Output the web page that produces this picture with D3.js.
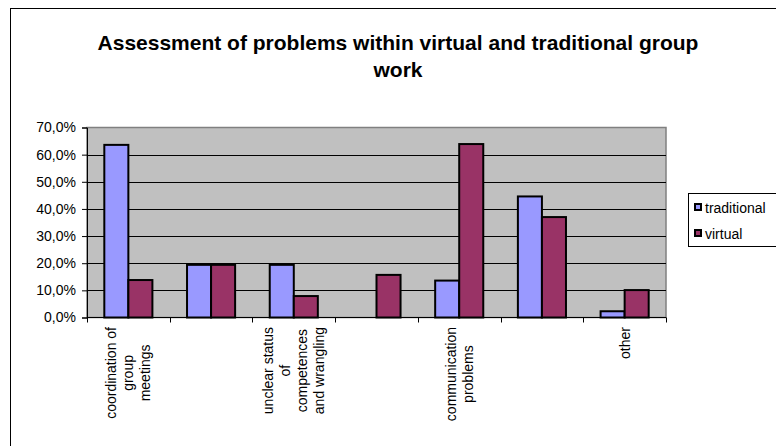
<!DOCTYPE html>
<html>
<head>
<meta charset="utf-8">
<script src="https://cdn.jsdelivr.net/npm/d3@7"></script>
<style>
  html, body { margin: 0; padding: 0; background: #fff; }
  svg { display: block; font-family: Arial, "Liberation Sans", sans-serif; }
</style>
</head>
<body>
<svg id="chart" width="776" height="446"></svg>
<script>
// ---- data ----
const titleLines = ["Assessment of problems within virtual and traditional group", "work"];
const categories = [
  "coordination of\ngroup\nmeetings",
  "",
  "unclear status\nof\ncompetences\nand wrangling",
  "",
  "communication\nproblems",
  "",
  "other"
];
const seriesNames = ["traditional", "virtual"];
const traditional = [63.6, 19.4, 19.4, 0, 13.6, 44.6, 2.3];
const virtual = [13.8, 19.4, 7.9, 15.7, 63.9, 37.0, 10.1];
const yTicks = [0, 10, 20, 30, 40, 50, 60, 70];
const colors = ["#9999FF", "#993366"];

// ---- layout ----
const svg = d3.select("#chart");
const plot = { left: 87, right: 666, top: 127.5, bottom: 317.5 };

// outer chart border
svg.append("rect").attr("x", 10.5).attr("y", 8.5).attr("width", 800).attr("height", 500)
  .attr("fill", "#fff").attr("stroke", "#000").attr("stroke-width", 1);

// title
svg.append("g").selectAll("text").data(titleLines).join("text")
  .attr("x", 398).attr("y", (d, i) => 50 + i * 27)
  .attr("text-anchor", "middle").attr("font-size", 21).attr("font-weight", "bold")
  .attr("fill", "#000").text(d => d);

const idx = categories.map((d, i) => i);
const x0 = d3.scaleBand().domain(idx).range([plot.left, plot.right]).padding(0);
const x1 = d3.scaleBand().domain(seriesNames).range([0, x0.bandwidth()]).paddingInner(0).paddingOuter(0.72);
const y = d3.scaleLinear().domain([0, 70]).range([plot.bottom, plot.top]);

// plot background
svg.append("rect").attr("x", plot.left).attr("y", plot.top)
  .attr("width", plot.right - plot.left).attr("height", plot.bottom - plot.top)
  .attr("fill", "#C0C0C0").attr("stroke", "#808080").attr("stroke-width", 1.5);

// gridlines
svg.append("g").selectAll("line").data(yTicks.filter(t => t > 0 && t < 70)).join("line")
  .attr("x1", plot.left).attr("x2", plot.right)
  .attr("y1", d => Math.round(y(d)) + 0.5).attr("y2", d => Math.round(y(d)) + 0.5)
  .attr("stroke", "#000").attr("stroke-width", 1);

// bars
const data = idx.map(i => ({ i, vals: [traditional[i], virtual[i]] }));
const groups = svg.append("g").selectAll("g").data(data).join("g")
  .attr("transform", d => `translate(${x0(d.i)},0)`);
groups.selectAll("rect").data(d => d.vals.map((v, k) => ({ v, k })).filter(o => o.v > 0)).join("rect")
  .attr("x", o => x1(seriesNames[o.k]))
  .attr("y", o => y(o.v))
  .attr("width", x1.bandwidth())
  .attr("height", o => y(0) - y(o.v))
  .attr("fill", o => colors[o.k])
  .attr("stroke", "#000").attr("stroke-width", 2);

// y axis
const fmt = d3.format(".1f");
const yAxis = d3.axisLeft(y).tickValues(yTicks).tickSize(5).tickPadding(6)
  .tickFormat(d => fmt(d).replace(".", ",") + "%");
const gy = svg.append("g").attr("transform", `translate(${plot.left},0)`).call(yAxis);
gy.select(".domain").attr("stroke", "#000");
gy.selectAll(".tick line").attr("stroke", "#000");
gy.selectAll(".tick text").attr("font-size", 14).attr("font-family", "Arial, 'Liberation Sans', sans-serif").attr("fill", "#000");

// x axis (ticks at category boundaries)
svg.append("line").attr("x1", plot.left).attr("x2", plot.right)
  .attr("y1", plot.bottom).attr("y2", plot.bottom).attr("stroke", "#000").attr("stroke-width", 1);
svg.append("g").selectAll("line").data(idx.concat([categories.length])).join("line")
  .attr("x1", i => Math.round(i < categories.length ? x0(i) : plot.right) + 0.5)
  .attr("x2", i => Math.round(i < categories.length ? x0(i) : plot.right) + 0.5)
  .attr("y1", plot.bottom).attr("y2", plot.bottom + 5)
  .attr("stroke", "#000");

// category labels (rotated, multi-line)
const labelTop = 327;
const lineGap = 17;
idx.forEach(i => {
  if (!categories[i]) return;
  const lines = categories[i].split("\n");
  const cx = x0(i) + x0.bandwidth() / 2;
  const g = svg.append("g");
  const texts = g.selectAll("text").data(lines).join("text")
    .attr("font-size", 14).attr("fill", "#000").attr("text-anchor", "middle")
    .attr("dy", "0.35em")
    .text(d => d);
  let maxW = 0;
  texts.each(function () { maxW = Math.max(maxW, this.getComputedTextLength()); });
  g.attr("transform", `translate(${cx},${labelTop}) rotate(-90)`);
  texts.attr("x", -maxW / 2).attr("y", (d, k) => (k - (lines.length - 1) / 2) * lineGap);
});

// legend
const lg = svg.append("g");
lg.append("rect").attr("x", 688.5).attr("y", 193.5).attr("width", 120).attr("height", 53)
  .attr("fill", "#fff").attr("stroke", "#000");
seriesNames.forEach((s, k) => {
  const yy = 207 + k * 26;
  lg.append("rect").attr("x", 695).attr("y", yy - 3).attr("width", 6).attr("height", 6)
    .attr("fill", colors[k]).attr("stroke", "#000").attr("stroke-width", 2);
  lg.append("text").attr("x", 705).attr("y", yy + 5.5).attr("font-size", 14).attr("fill", "#000").text(s);
});
</script>
</body>
</html>
